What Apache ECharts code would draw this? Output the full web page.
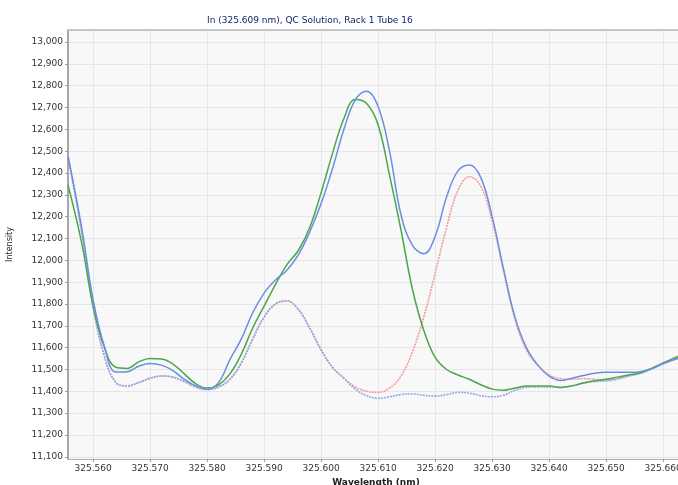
<!DOCTYPE html>
<html><head><meta charset="utf-8">
<script src="https://cdn.jsdelivr.net/npm/echarts@6/dist/echarts.min.js"></script>
<style>html,body{margin:0;padding:0;background:#fff}#c{width:678px;height:485px}</style>
</head><body><div id="c"></div>
<script>
const wavelengths = [325.5556,325.558,325.560,325.562,325.564,325.566,325.568,325.570,325.572,325.574,325.576,325.578,325.580,325.582,325.584,325.586,325.588,325.590,325.592,325.594,325.596,325.598,325.600,325.602,325.604,325.606,325.608,325.610,325.612,325.614,325.616,325.618,325.620,325.622,325.624,325.626,325.628,325.630,325.632,325.634,325.636,325.638,325.640,325.642,325.644,325.646,325.648,325.650,325.652,325.654,325.656,325.658,325.660,325.662,325.6626];
const blueSolid = [12475,12150,11820,11604,11488,11490,11515,11528,11520,11495,11455,11425,11410,11440,11545,11640,11760,11850,11910,11955,12025,12130,12260,12420,12600,12735,12775,12705,12500,12210,12070,12030,12110,12290,12410,12437,12380,12200,11960,11740,11600,11520,11470,11450,11460,11472,11483,11487,11487,11487,11490,11505,11528,11545,11551];
const green = [12345,12080,11790,11600,11510,11505,11535,11550,11548,11525,11480,11435,11415,11430,11480,11570,11690,11790,11890,11980,12045,12150,12310,12490,12650,12737,12718,12620,12390,12140,11870,11680,11555,11500,11475,11455,11430,11410,11405,11415,11424,11424,11424,11418,11425,11438,11448,11455,11465,11475,11485,11505,11530,11552,11558];
const redDotted = [12480,12130,11790,11560,11440,11425,11440,11460,11470,11465,11445,11420,11408,11420,11455,11530,11640,11740,11800,11814,11775,11690,11590,11510,11460,11420,11400,11395,11415,11470,11580,11740,11940,12150,12320,12383,12340,12180,11950,11730,11590,11520,11475,11458,11455,11458,11455,11452,11460,11472,11485,11505,11530,11555,11561];
const blueDotted = [12480,12130,11790,11560,11440,11425,11440,11460,11470,11465,11445,11420,11408,11420,11455,11530,11640,11740,11800,11814,11775,11690,11590,11510,11460,11410,11380,11368,11375,11385,11388,11382,11378,11385,11395,11392,11380,11375,11382,11405,11418,11420,11420,11418,11425,11438,11445,11448,11455,11470,11482,11502,11525,11548,11551];
const xTicks = [325.560,325.570,325.580,325.590,325.600,325.610,325.620,325.630,325.640,325.650,325.660];
const yTicks = [11100,11200,11300,11400,11500,11600,11700,11800,11900,12000,12100,12200,12300,12400,12500,12600,12700,12800,12900,13000];
const titleText = 'In (325.609 nm), QC Solution, Rack 1 Tube 16';

function pairs(ys){ return wavelengths.map((w,i)=>[w, ys[i]]); }
const font = 'Tahoma, "DejaVu Sans", sans-serif';
const chart = echarts.init(document.getElementById('c'), null, {renderer:'canvas'});
chart.setOption({
  animation:false,
  backgroundColor:'#ffffff',
  title:{text:titleText, left:202, top:11, textStyle:{fontFamily:font, fontSize:9, fontWeight:'normal', color:'#15236a'}},
  grid:{left:68, right:0, top:30, bottom:26, show:true, backgroundColor:'#f8f8f8', borderWidth:0, outerBoundsMode:'none', containLabel:false},
  xAxis:[{
    type:'value', min:325.5556, max:325.6626,
    name:'Wavelength (nm)', nameLocation:'middle', nameGap:17,
    nameTextStyle:{fontFamily:font, fontSize:9, fontWeight:'bold', color:'#222', padding:[0,0,0,6]},
    axisLine:{show:true, lineStyle:{color:'#b0b0b0', width:1}},
    axisTick:{show:true, customValues:xTicks, length:3, lineStyle:{color:'#999'}},
    axisLabel:{customValues:xTicks, formatter:v=>v.toFixed(3), fontFamily:font, fontSize:9, color:'#333', margin:5, hideOverlap:false},
    splitLine:{show:true, lineStyle:{color:'#e6e6e6', width:1}}
  },{
    type:'value', position:'top', min:325.5556, max:325.6626,
    axisLine:{show:true, lineStyle:{color:'#c4c4c4', width:2}},
    axisTick:{show:false}, axisLabel:{show:false}, splitLine:{show:false}
  }],
  yAxis:{
    type:'value', min:11090, max:13055,
    name:'Intensity', nameLocation:'middle', nameGap:54, nameRotate:90,
    nameTextStyle:{fontFamily:font, fontSize:8, color:'#222'},
    axisLine:{show:true, lineStyle:{color:'#a8a8a8', width:2}},
    axisTick:{show:true, customValues:yTicks, length:3, lineStyle:{color:'#999'}},
    axisLabel:{customValues:yTicks, formatter:v=>v.toLocaleString('en-US'), fontFamily:font, fontSize:9, color:'#333', margin:5},
    splitLine:{show:true, lineStyle:{color:'#e6e6e6', width:1}}
  },
  series:[
    {type:'line', data:pairs(redDotted), smooth:0.4, showSymbol:false, lineStyle:{color:'#f29a9a', width:1.6, type:[2,1]}, z:2},
    {type:'line', data:pairs(blueDotted), smooth:0.4, showSymbol:false, lineStyle:{color:'#8fa9e6', width:1.6, type:[2,1]}, z:3},
    {type:'line', data:pairs(green), smooth:0.4, showSymbol:false, lineStyle:{color:'#4aa74a', width:1.5}, z:4},
    {type:'line', data:pairs(blueSolid), smooth:0.4, showSymbol:false, lineStyle:{color:'#6a8ee0', width:1.5}, z:5}
  ]
});
</script></body></html>
